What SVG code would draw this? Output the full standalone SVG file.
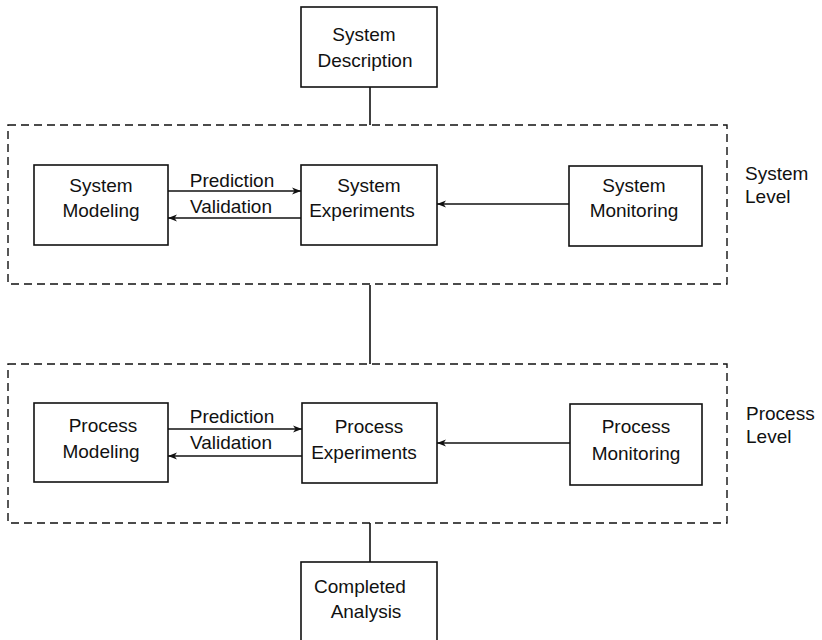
<svg xmlns="http://www.w3.org/2000/svg" width="822" height="640" viewBox="0 0 822 640">
<style>
.box{fill:#fff;stroke:#111;stroke-width:1.6}
.dash{fill:none;stroke:#111;stroke-width:1.4;stroke-dasharray:8 5}
.ln{fill:none;stroke:#111;stroke-width:1.6}
.ar{fill:none;stroke:#111;stroke-width:1.5}
text{font-family:"Liberation Sans",Arial,sans-serif;font-size:19px;fill:#111;text-anchor:middle}
.lv{text-anchor:start}
</style>
<defs>
<marker id="ah" markerWidth="10" markerHeight="8" refX="9" refY="4" orient="auto" markerUnits="userSpaceOnUse">
<path d="M0,0.5 L9,4 L0,7.5 L2.5,4 Z" fill="#111"/>
</marker>
</defs>
<g id="levels">
<rect class="dash" x="8" y="125" width="719" height="159"/>
<rect class="dash" x="8" y="364" width="719" height="159"/>
<text class="lv" x="745" y="180">System</text>
<text class="lv" x="745" y="203">Level</text>
<text class="lv" x="746" y="420">Process</text>
<text class="lv" x="746" y="443">Level</text>
</g>
<g id="connectors">
<line class="ln" x1="370" y1="87" x2="370" y2="125"/>
<line class="ln" x1="370" y1="285" x2="370" y2="364"/>
<line class="ln" x1="370" y1="523" x2="370" y2="562"/>
<line class="ar" x1="168" y1="191" x2="301" y2="191" marker-end="url(#ah)"/>
<line class="ar" x1="301" y1="218" x2="168" y2="218" marker-end="url(#ah)"/>
<line class="ar" x1="569" y1="204" x2="437" y2="204" marker-end="url(#ah)"/>
<line class="ar" x1="168" y1="429" x2="302" y2="429" marker-end="url(#ah)"/>
<line class="ar" x1="302" y1="456" x2="168" y2="456" marker-end="url(#ah)"/>
<line class="ar" x1="570" y1="443" x2="437" y2="443" marker-end="url(#ah)"/>
<text x="232" y="187">Prediction</text>
<text x="231" y="213">Validation</text>
<text x="232" y="423">Prediction</text>
<text x="231" y="449">Validation</text>
</g>
<g id="system-description">
<rect class="box" x="301" y="7" width="136" height="80"/>
<text x="364" y="41">System</text>
<text x="365" y="67">Description</text>
</g>
<g id="system-modeling">
<rect class="box" x="34" y="165" width="134" height="80"/>
<text x="101" y="192">System</text>
<text x="101" y="217">Modeling</text>
</g>
<g id="system-experiments">
<rect class="box" x="301" y="165" width="136" height="80"/>
<text x="369" y="192">System</text>
<text x="362" y="217">Experiments</text>
</g>
<g id="system-monitoring">
<rect class="box" x="569" y="166" width="133" height="80"/>
<text x="634" y="192">System</text>
<text x="634" y="217">Monitoring</text>
</g>
<g id="process-modeling">
<rect class="box" x="34" y="403" width="134" height="79"/>
<text x="103" y="432">Process</text>
<text x="101" y="458">Modeling</text>
</g>
<g id="process-experiments">
<rect class="box" x="302" y="403" width="135" height="80"/>
<text x="369" y="433">Process</text>
<text x="364" y="459">Experiments</text>
</g>
<g id="process-monitoring">
<rect class="box" x="570" y="404" width="132" height="81"/>
<text x="636" y="433">Process</text>
<text x="636" y="460">Monitoring</text>
</g>
<g id="completed-analysis">
<rect class="box" x="301" y="562" width="136" height="90"/>
<text x="360" y="593">Completed</text>
<text x="366" y="618">Analysis</text>
</g>
</svg>
